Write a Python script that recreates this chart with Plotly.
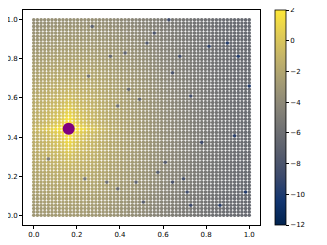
import numpy as np
import plotly.graph_objects as go

# grid of evaluated points (60 x 60 on the unit square)
n_side = 60
grid_vals = np.linspace(0.0, 1.0, n_side)

# highlighted point (purple)
center_x = [0.162]
center_y = [0.442]

# radial profile of the colour value
profile_r = [0.0, 0.05, 0.10, 0.15, 0.20, 0.30, 0.40, 0.50, 0.60, 0.70, 0.80, 1.00, 1.30]
profile_v = [1.5, 0.2, -0.7, -1.3, -1.8, -2.6, -3.4, -4.2, -5.0, -5.6, -6.1, -6.6, -6.8]
y_stretch = 1.4

# brighter cross through the highlighted point
ridge_d = [0.0, 0.05, 0.10, 0.15, 0.20, 0.30]
ridge_boost = [1.0, 1.3, 1.0, 0.6, 0.3, 0.0]
ridge_w_d = [0.0, 0.012, 0.03]
ridge_w = [1.0, 0.5, 0.0]

# scattered darker dots (x, y)
dark_x = [0.273, 0.56, 0.523, 0.421, 0.352, 0.259, 0.444, 0.491, 0.384, 0.62, 0.898, 0.815,
          0.685, 0.954, 0.639, 1.0, 0.736, 0.06, 0.236, 0.338, 0.477, 0.569, 0.514, 0.384,
          0.778, 0.94, 0.616, 0.69, 0.639, 0.861, 0.99, 0.736, 0.713]
dark_y = [0.964, 0.939, 0.883, 0.832, 0.806, 0.719, 0.643, 0.592, 0.551, 1.0, 0.883, 0.862,
          0.821, 0.806, 0.73, 0.658, 0.607, 0.286, 0.184, 0.168, 0.173, 0.224, 0.066, 0.133,
          0.378, 0.403, 0.27, 0.184, 0.173, 0.046, 0.122, 0.046, 0.117]
dark_shift = -3.5

# colour bar
cbar_ticks = [2, 0, -2, -4, -6, -8, -10, -12]

X, Y = np.meshgrid(grid_vals, grid_vals)
dx = X - center_x[0]
dy = Y - center_y[0]
r_eff = np.sqrt(dx ** 2 + (dy / y_stretch) ** 2)
V = np.interp(r_eff, profile_r, profile_v)
V = V + np.interp(np.abs(dx), ridge_d, ridge_boost) * np.interp(np.abs(dy), ridge_w_d, ridge_w)
V = V + np.interp(np.abs(dy), ridge_d, ridge_boost) * np.interp(np.abs(dx), ridge_w_d, ridge_w)
for px, py in zip(dark_x, dark_y):
    i = int(round(py * (n_side - 1)))
    j = int(round(px * (n_side - 1)))
    V[i, j] += dark_shift

font = dict(family="DejaVu Sans", size=7, color="black")

fig = go.Figure()
fig.add_trace(go.Scatter(
    x=X.ravel(), y=Y.ravel(), mode="markers", showlegend=False, hoverinfo="skip",
    marker=dict(size=3.6, color=V.ravel(), colorscale="cividis", cmin=-12, cmax=2,
                line=dict(width=0),
                colorbar=dict(x=1.063, xanchor="left", xpad=0, y=0.5, yanchor="middle",
                              lenmode="pixels", len=215, thicknessmode="pixels", thickness=11,
                              ypad=0, outlinewidth=0.8, outlinecolor="black",
                              tickmode="array", tickvals=cbar_ticks,
                              ticktext=[str(t).replace("-", "\u2212") for t in cbar_ticks],
                              ticklabeloverflow="allow",
                              ticks="outside", ticklen=3, tickwidth=0.8, tickcolor="black",
                              tickfont=font)),
))
fig.add_trace(go.Scatter(
    x=center_x, y=center_y, mode="markers", showlegend=False,
    marker=dict(size=12, color="purple", line=dict(width=0)),
))

axis_common = dict(range=[-0.05, 1.05], showgrid=False, zeroline=False, showline=True,
                   mirror=True, linecolor="black", linewidth=0.8, ticks="outside",
                   ticklen=3, tickwidth=0.8, tickcolor="black", tickfont=font,
                   tickvals=[0, 0.2, 0.4, 0.6, 0.8, 1.0], tickformat=".1f",
                   automargin=False)
fig.update_layout(
    width=319, height=237,
    margin=dict(l=15, r=67, t=2, b=20, autoexpand=False),
    paper_bgcolor="white", plot_bgcolor="white",
    xaxis=axis_common, yaxis=axis_common,
)
fig.write_html("out.html")
